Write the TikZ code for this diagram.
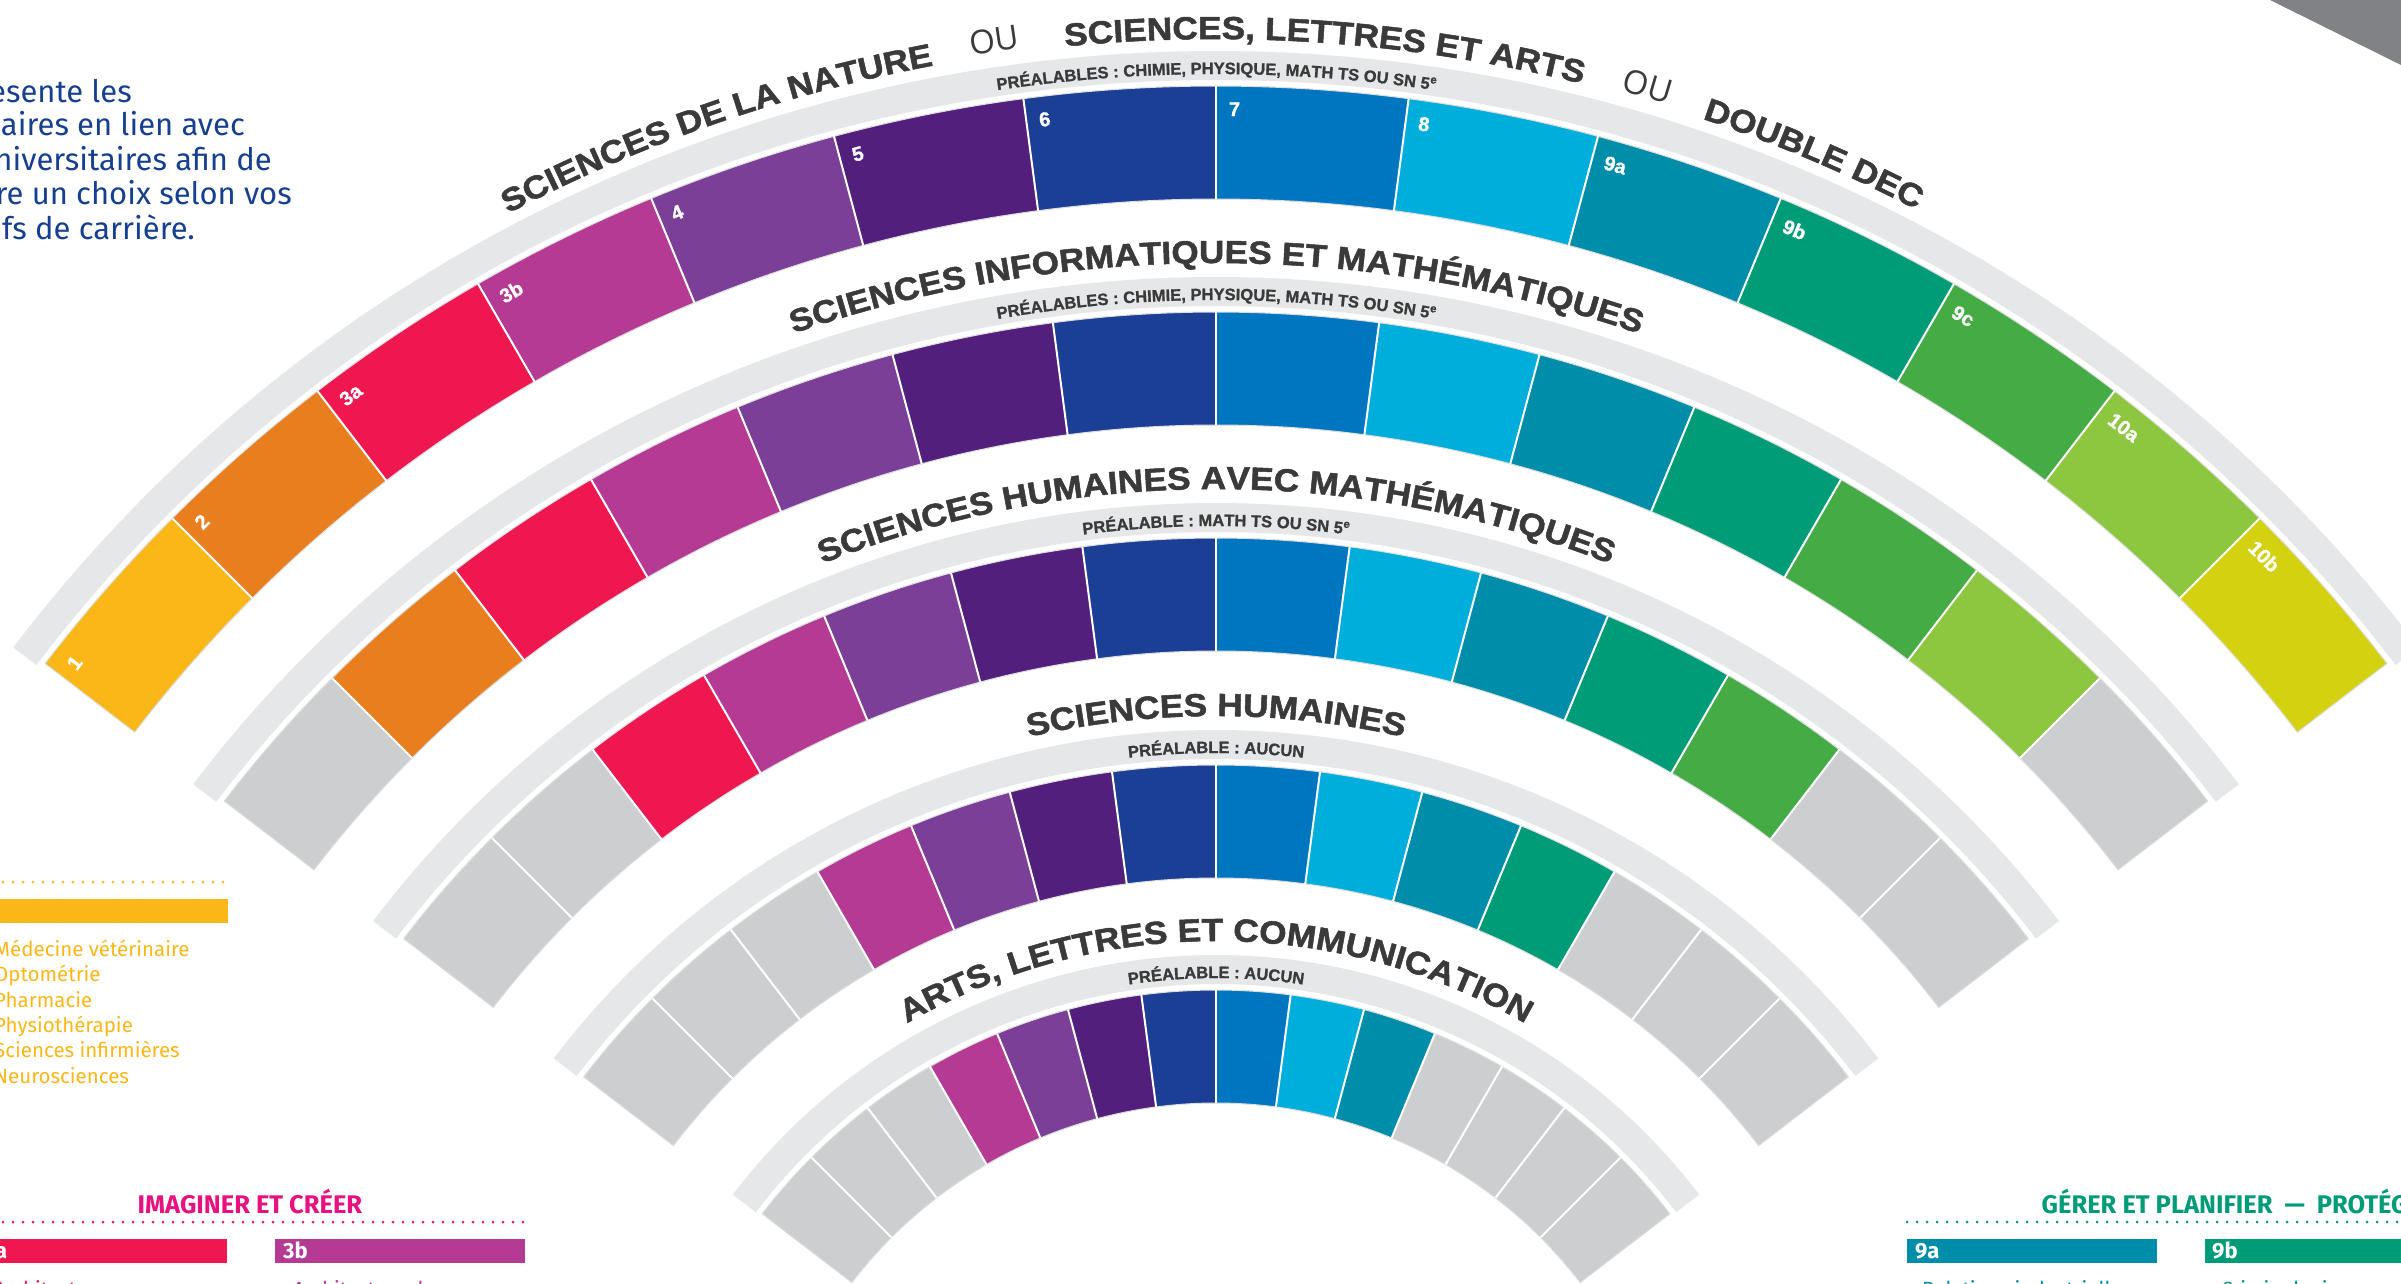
\documentclass[tikz,border=0pt]{standalone}
\usepackage{fontspec}
\setmainfont{Liberation Sans}
\newfontfamily\titlefont[FakeStretch=1.1,FakeBold=1.6]{Liberation Sans}
\newfontfamily\subfont[FakeBold=1.2]{Liberation Sans}
\newfontfamily\oufont{Open Sans}
\newfontfamily\bodyfont{Fira Sans}
\usetikzlibrary{decorations.text}
\definecolor{cA}{HTML}{FBB718}
\definecolor{cB}{HTML}{E97E1F}
\definecolor{cC}{HTML}{EE1750}
\definecolor{cD}{HTML}{B53A93}
\definecolor{cE}{HTML}{7C3F97}
\definecolor{cF}{HTML}{521F7C}
\definecolor{cG}{HTML}{1B3F94}
\definecolor{cH}{HTML}{0075C0}
\definecolor{cI}{HTML}{00AEDB}
\definecolor{cJ}{HTML}{008DA9}
\definecolor{cK}{HTML}{009B77}
\definecolor{cL}{HTML}{45AB44}
\definecolor{cM}{HTML}{8DC63F}
\definecolor{cN}{HTML}{D4D111}
\definecolor{gz}{HTML}{CDCED0}
\definecolor{bandgray}{HTML}{E6E7E8}
\definecolor{edgegray}{HTML}{DCDDDF}
\definecolor{titlegray}{HTML}{3A3A3A}
\definecolor{navy}{HTML}{16408F}
\definecolor{pinkhead}{HTML}{E8117F}
\definecolor{tri}{HTML}{808285}
\newcommand\drawring[2]{%
  \pgfmathsetmacro\RiX{#1-113}%
  \pgfmathsetmacro\GaX{#1+6}%
  \pgfmathsetmacro\GbX{#1+35}%
  \fill[bandgray] (142.75:\GbX pt) arc[start angle=142.75,end angle=37.25,radius=\GbX pt]
     -- (37.25:\GaX pt) arc[start angle=37.25,end angle=142.75,radius=\GaX pt] -- cycle;
  \foreach \c [count=\i] in {#2} {%
    \pgfmathsetmacro\angA{150-7.5*\i}%
    \pgfmathsetmacro\angB{\angA-7.5}%
    \fill[\c] (\angA:#1pt) arc[start angle=\angA,end angle=\angB,radius=#1pt]
       -- (\angB:\RiX pt) arc[start angle=\angB,end angle=\angA,radius=\RiX pt] -- cycle;
  }%
  \draw[edgegray,line width=1pt] (142.5:#1pt) arc[start angle=142.5,end angle=37.5,radius=#1pt]
       -- (37.5:\RiX pt) arc[start angle=37.5,end angle=142.5,radius=\RiX pt] -- cycle;
  \foreach \j in {1,...,13} {%
    \pgfmathsetmacro\angA{142.5-7.5*\j}%
    \draw[white,line width=2pt] (\angA:\RiX pt) -- (\angA:#1pt);
  }%
}
\newcommand\arctext[4]{%
  \path[decorate,decoration={text along path,text align=center,text={|#3|#4}}]
    (#2+40:#1pt) arc[start angle=#2+40,end angle=#2-40,radius=#1pt];%
}
\def\tfmt{\titlefont\bfseries\fontsize{32}{32}\selectfont\color{titlegray}}
\def\sfmt{\subfont\bfseries\fontsize{16.5}{16.5}\selectfont\color{titlegray}}
\tikzset{
  labelw/.style={anchor=north west,inner sep=0pt,text=white,font=\subfont\bfseries\fontsize{20}{20}\selectfont},
  oustyle/.style={anchor=base,inner sep=0pt,text=titlegray,font=\oufont\fontsize{33}{33}\selectfont},
  bluetext/.style={anchor=base east,inner sep=0pt,text=navy,font=\bodyfont\fontsize{31}{31}\selectfont},
  item/.style={anchor=base west,inner sep=0pt,font=\bodyfont\fontsize{20.5}{20.5}\selectfont},
  head/.style={anchor=base west,inner sep=0pt,font=\bodyfont\bfseries\fontsize{25.5}{25.5}\selectfont},
  barlabel/.style={anchor=base west,inner sep=0pt,text=white,font=\bodyfont\bfseries\fontsize{22}{22}\selectfont},
  dotline/.style={line width=3pt,line cap=round,dash pattern=on 0pt off 10pt}
}
\begin{document}
\begin{tikzpicture}[x=1pt,y=1pt]
\useasboundingbox (0,-1284) rectangle (2401,0);
\fill[white] (0,-1284) rectangle (2401,0);
\fill[tri] (2270,0) -- (2401,0) -- (2401,-65) -- cycle;
\begin{scope}[shift={(1216,-1562)}]
\drawring{1476}{cA,cB,cC,cD,cE,cF,cG,cH,cI,cJ,cK,cL,cM,cN}
\drawring{1250}{gz,cB,cC,cD,cE,cF,cG,cH,cI,cJ,cK,cL,cM,gz}
\drawring{1024}{gz,gz,cC,cD,cE,cF,cG,cH,cI,cJ,cK,cL,gz,gz}
\drawring{797}{gz,gz,gz,cD,cE,cF,cG,cH,cI,cJ,cK,gz,gz,gz}
\drawring{572}{gz,gz,gz,cD,cE,cF,cG,cH,cI,cJ,gz,gz,gz,gz}
% segment labels of the outer ring
\foreach \t [count=\i] in {1,2,3a,3b,4,5,6,7,8,9a,9b,9c,10a,10b} {
  \pgfmathsetmacro\angA{150-7.5*\i}
  \pgfmathsetmacro\angL{\angA-0.5}
  \pgfmathsetmacro\rot{\angA-90}
  \node[labelw,rotate=\rot] (lab\i) at (\angL:1460pt) {\t};
}
% ring titles
\arctext{1523}{109.2}{\tfmt}{SCIENCES DE LA NATURE}
\arctext{1523}{85.9}{\tfmt}{SCIENCES, LETTRES ET ARTS}
\arctext{1523}{67}{\tfmt}{DOUBLE DEC}
\node[oustyle,rotate=8.3] (ou1) at (98.3:1526pt) {OU};
\node[oustyle,rotate=-16.3] (ou2) at (73.7:1526pt) {OU};
\arctext{1299}{90}{\tfmt}{SCIENCES INFORMATIQUES ET MATHÉMATIQUES}
\arctext{1073}{90}{\tfmt}{SCIENCES HUMAINES AVEC MATHÉMATIQUES}
\arctext{846}{90}{\tfmt}{SCIENCES HUMAINES}
\arctext{621}{90}{\tfmt}{ARTS, LETTRES ET COMMUNICATION}
% prerequisites
\arctext{1488}{90}{\sfmt}{PRÉALABLES : CHIMIE, PHYSIQUE, MATH TS OU SN 5{\textsuperscript{e}}}
\arctext{1262}{90}{\sfmt}{PRÉALABLES : CHIMIE, PHYSIQUE, MATH TS OU SN 5{\textsuperscript{e}}}
\arctext{1036}{90}{\sfmt}{PRÉALABLE : MATH TS OU SN 5{\textsuperscript{e}}}
\arctext{809}{90}{\sfmt}{PRÉALABLE : AUCUN}
\arctext{584}{90}{\sfmt}{PRÉALABLE : AUCUN}
\end{scope}
% intro text
\node[bluetext] (t1) at (132,-103) {esente les};
\node[bluetext] (t2) at (245,-136) {aires en lien avec};
\node[bluetext] (t3) at (272,-170.5) {niversitaires afin de};
\node[bluetext] (t4) at (292,-205) {re un choix selon vos};
\node[bluetext] (t5) at (195,-240) {fs de carrière.};
% yellow legend
\draw[dotline,cA] (3,-882) -- (228,-882);
\fill[cA] (0,-899) rectangle (228,-923);
\node[item,text=cA] (y1) at (-6,-956) {Médecine vétérinaire};
\node[item,text=cA] (y2) at (-6,-981.5) {Optométrie};
\node[item,text=cA] (y3) at (-6,-1007) {Pharmacie};
\node[item,text=cA] (y4) at (-6,-1032) {Physiothérapie};
\node[item,text=cA] (y5) at (-6,-1057.5) {Sciences infirmières};
\node[item,text=cA] (y6) at (-6,-1083) {Neurosciences};
% imaginer et creer
\node[head,text=pinkhead] (h1) at (137.5,-1213) {IMAGINER ET CRÉER};
\draw[dotline,pinkhead] (3,-1222) -- (525,-1222);
\fill[cC] (0,-1239) rectangle (227,-1263);
\fill[cD] (275,-1239) rectangle (525,-1263);
\node[barlabel] (b3a) at (-5,-1258) {a};
\node[barlabel] (b3b) at (283,-1258) {3b};
\node[item,text=cC] (i3a) at (-6,-1296) {Architecture};
\node[item,text=cD] (i3b) at (293,-1296) {Architecture du paysage};
% gerer et planifier
\node[head,text=cK] (h2) at (2041.5,-1213) {GÉRER ET PLANIFIER\hspace{12pt}—\hspace{12pt}PROTÉG};
\draw[dotline,cK] (1907,-1222) -- (2401,-1222);
\fill[cJ] (1907,-1239) rectangle (2157,-1263);
\fill[cK] (2205,-1239) rectangle (2401,-1263);
\node[barlabel] (b9a) at (1915,-1258) {9a};
\node[barlabel] (b9b) at (2212,-1258) {9b};
\node[item,text=cJ] (i9a) at (1922,-1296) {Relations industrielles};
\node[item,text=cK] (i9b) at (2221,-1296) {Criminologie};
\end{tikzpicture}
\end{document}
